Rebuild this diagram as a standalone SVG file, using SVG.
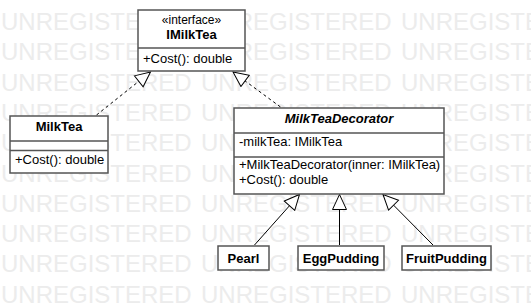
<svg xmlns="http://www.w3.org/2000/svg" width="531" height="306" viewBox="0 0 531 306">
  <style>
    .wm { font-family: "Liberation Sans", Arial, sans-serif; font-size: 24px; fill: #ececec; }
    .box { fill: #ffffff; stroke: #555555; stroke-width: 1.5; }
    .sep { stroke: #555555; stroke-width: 1.5; }
    .t { font-family: "Liberation Sans", Arial, sans-serif; font-size: 13px; fill: #000000; }
    .b { font-weight: bold; }
    .i { font-style: italic; }
    .m { text-anchor: middle; }
    .st { font-size: 12px; }
    .edge { fill: none; stroke: #000000; stroke-width: 1; }
    .dash { stroke-dasharray: 3 3; }
  </style>
  <defs>
    <marker id="hollow" markerUnits="userSpaceOnUse" markerWidth="18" markerHeight="18" refX="16" refY="8" orient="auto">
      <path d="M1,1 L16,8 L1,15 Z" fill="#ffffff" stroke="#000000" stroke-width="1"/>
    </marker>
  </defs>

  <rect width="531" height="306" fill="#ffffff"/>

  <!-- background watermark rows -->
  <g id="watermark" class="wm">
    <text x="1" y="30">UNREGISTERED <tspan x="201">UNREGISTERED</tspan> <tspan x="401">UNREGISTERED</tspan></text>
    <text x="1" y="60.3">UNREGISTERED <tspan x="201">UNREGISTERED</tspan> <tspan x="401">UNREGISTERED</tspan></text>
    <text x="1" y="90.6">UNREGISTERED <tspan x="201">UNREGISTERED</tspan> <tspan x="401">UNREGISTERED</tspan></text>
    <text x="1" y="120.9">UNREGISTERED <tspan x="201">UNREGISTERED</tspan> <tspan x="401">UNREGISTERED</tspan></text>
    <text x="1" y="151.2">UNREGISTERED <tspan x="201">UNREGISTERED</tspan> <tspan x="401">UNREGISTERED</tspan></text>
    <text x="1" y="181.5">UNREGISTERED <tspan x="201">UNREGISTERED</tspan> <tspan x="401">UNREGISTERED</tspan></text>
    <text x="1" y="211.8">UNREGISTERED <tspan x="201">UNREGISTERED</tspan> <tspan x="401">UNREGISTERED</tspan></text>
    <text x="1" y="242.1">UNREGISTERED <tspan x="201">UNREGISTERED</tspan> <tspan x="401">UNREGISTERED</tspan></text>
    <text x="1" y="272.4">UNREGISTERED <tspan x="201">UNREGISTERED</tspan> <tspan x="401">UNREGISTERED</tspan></text>
    <text x="1" y="302.7">UNREGISTERED <tspan x="201">UNREGISTERED</tspan> <tspan x="401">UNREGISTERED</tspan></text>
  </g>

  <!-- connectors -->
  <g id="connectors">
    <line class="edge dash" x1="96.5" y1="115" x2="150.5" y2="72" marker-end="url(#hollow)"/>
    <line class="edge dash" x1="280.5" y1="107" x2="233" y2="72" marker-end="url(#hollow)"/>
    <line class="edge" x1="254.5" y1="245" x2="299.5" y2="194.5" marker-end="url(#hollow)"/>
    <line class="edge" x1="339.5" y1="245" x2="339.5" y2="194.5" marker-end="url(#hollow)"/>
    <line class="edge" x1="433" y1="245" x2="383" y2="194.5" marker-end="url(#hollow)"/>
  </g>

  <g id="IMilkTea">
    <rect class="box" x="138" y="10" width="107" height="61"/>
    <line class="sep" x1="138" y1="48" x2="245" y2="48"/>
    <text class="t st m" x="191.5" y="24">«interface»</text>
    <text class="t b m" x="191.5" y="39">IMilkTea</text>
    <text class="t" x="143" y="63">+Cost(): double</text>
  </g>

  <g id="MilkTea">
    <rect class="box" x="10" y="116" width="98" height="57"/>
    <line class="sep" x1="10" y1="141" x2="108" y2="141"/>
    <line class="sep" x1="10" y1="150.5" x2="108" y2="150.5"/>
    <text class="t b m" x="59" y="131">MilkTea</text>
    <text class="t" x="15" y="164">+Cost(): double</text>
  </g>

  <g id="MilkTeaDecorator">
    <rect class="box" x="234" y="108" width="210" height="86"/>
    <line class="sep" x1="234" y1="133" x2="444" y2="133"/>
    <line class="sep" x1="234" y1="157" x2="444" y2="157"/>
    <text class="t b i m" x="339" y="123">MilkTeaDecorator</text>
    <text class="t" x="239" y="146">-milkTea: IMilkTea</text>
    <text class="t" x="239" y="169">+MilkTeaDecorator(inner: IMilkTea)</text>
    <text class="t" x="239" y="184">+Cost(): double</text>
  </g>

  <g id="Pearl">
    <rect class="box" x="218" y="246" width="51" height="24"/>
    <text class="t b m" x="243.5" y="263">Pearl</text>
  </g>

  <g id="EggPudding">
    <rect class="box" x="298" y="246" width="86" height="24"/>
    <text class="t b m" x="341" y="263">EggPudding</text>
  </g>

  <g id="FruitPudding">
    <rect class="box" x="402" y="246" width="89" height="24"/>
    <text class="t b m" x="446.5" y="263">FruitPudding</text>
  </g>
</svg>
